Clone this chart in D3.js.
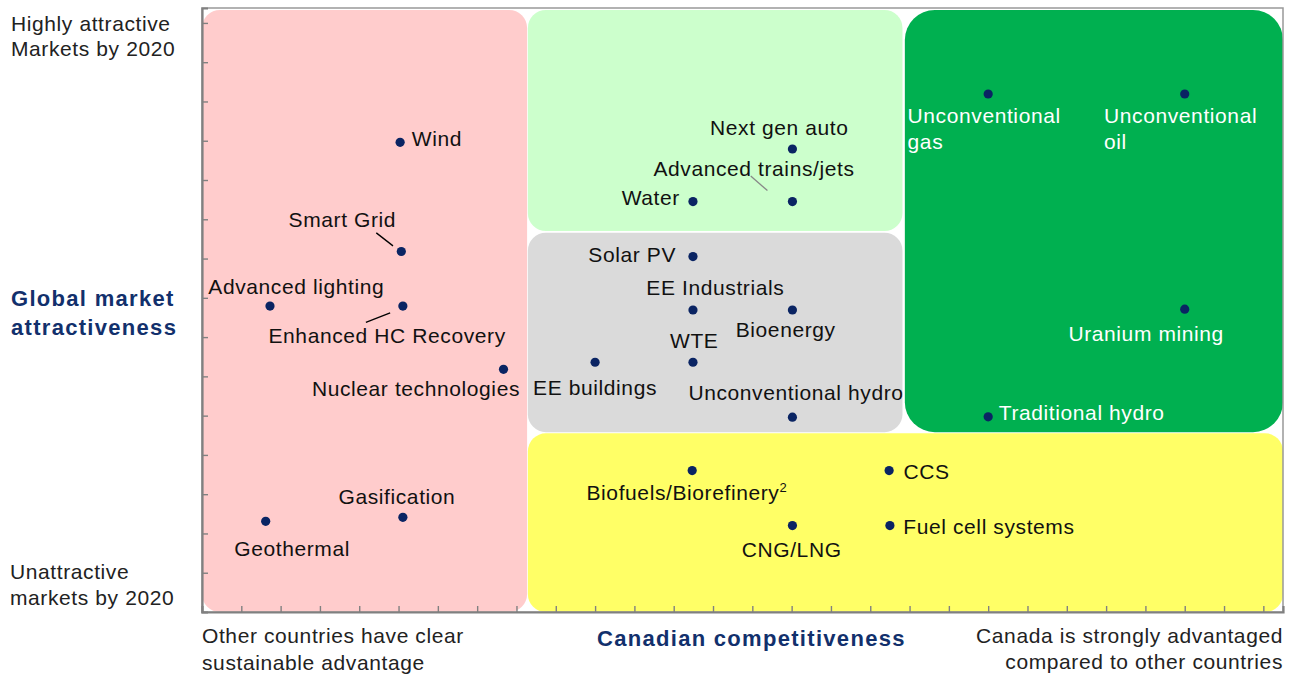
<!DOCTYPE html>
<html>
<head>
<meta charset="utf-8">
<style>
  body { margin: 0; background: #fff; }
  svg text { font-family: "Liberation Sans", Arial, sans-serif; }
</style>
</head>
<body>
<svg width="1292" height="674"></svg>
<script src="https://cdn.jsdelivr.net/npm/d3@7"></script>
<script>
// technologies, Canadian competitiveness (x) and global market attractiveness (y)
var techNames = ["Wind", "Smart Grid", "Advanced lighting", "Enhanced HC Recovery", "Nuclear technologies",
  "Gasification", "Geothermal", "Next gen auto", "Advanced trains/jets", "Water", "Solar PV",
  "EE Industrials", "Bioenergy", "EE buildings", "WTE", "Unconventional hydro", "Biofuels/Biorefinery",
  "CCS", "CNG/LNG", "Fuel cell systems", "Unconventional gas", "Unconventional oil", "Uranium mining",
  "Traditional hydro"];
var competitiveness = [5.04, 5.07, 1.73, 5.11, 7.67, 5.11, 1.62, 15.02, 15.02, 12.49, 12.49,
  12.49, 15.02, 10.0, 12.49, 15.02, 12.47, 17.48, 15.02, 17.5, 20.0, 25.0, 25.0, 20.0];
var attractiveness = [11.96, 9.18, 7.79, 7.79, 6.18, 2.41, 2.31, 11.79, 10.45, 10.45, 9.05,
  7.69, 7.69, 6.36, 6.36, 4.96, 3.60, 3.60, 2.20, 2.20, 13.19, 13.19, 7.71, 4.97];

// background zones (in axis units)
var zoneX0 = [0, 8.29, 8.29, 17.88, 8.29];
var zoneX1 = [8.27, 17.82, 17.82, 27.5, 27.5];
var zoneY0 = [0, 9.70, 4.58, 4.58, 0];
var zoneY1 = [15.33, 15.33, 9.66, 15.33, 4.55];
var zoneColors = ["#ffcccc", "#ccffcc", "#dadada", "#00b050", "#ffff66"];
var zoneRadius = [18, 18, 18, 30, 18];

// label placement relative to each dot: [dx, dy, lines, colour]
var labelLayout = [
  [11.7, 3.4], [-112.7, -24.6], [-61.7, -12], [-134.4, 37.3], [-191.6, 26.4],
  [-64.4, -13.3], [-31.4, 34.7], [-82.4, -14], [-139, -25.7], [-71.3, 3.6], [-104.6, 5.6],
  [-46.6, -15], [-56.7, 27.3], [-62, 32.7], [-23, -14.6], [-104, -17.3], [-105.7, 29.3],
  [14.4, 8.6], [-50.7, 31.6], [13.4, 8.6], [-80.6, 29.3], [-80.7, 29.3], [-116.3, 31.7],
  [10.6, 3.3]
];
var whiteLabels = ["Unconventional gas", "Unconventional oil", "Uranium mining", "Traditional hydro"];
var splitLabels = { "Unconventional gas": ["Unconventional", "gas"], "Unconventional oil": ["Unconventional", "oil"] };

// leader lines relative to the dot
var leaders = [
  { name: "Smart Grid", d: [-25, -18.6, -8.3, -5.6], color: "#000" },
  { name: "Enhanced HC Recovery", d: [-12.7, 6.7, -37, 16.3], color: "#000" },
  { name: "Advanced trains/jets", d: [-41.7, -25.7, -25, -11], color: "#888" }
];

var svg = d3.select("svg");
var margin = {top: 8, right: 9, bottom: 62, left: 202};
var width = +svg.attr("width") - margin.left - margin.right;
var height = +svg.attr("height") - margin.top - margin.bottom;

var x = d3.scaleLinear().domain([0, 27.5]).range([margin.left, margin.left + width]);
var y = d3.scaleLinear().domain([0, 15.38]).range([margin.top + height, margin.top]);

// zones
svg.selectAll("rect.zone")
  .data(zoneColors)
  .enter().append("rect")
  .attr("class", "zone")
  .attr("x", function(d, i) { return x(zoneX0[i]); })
  .attr("y", function(d, i) { return y(zoneY1[i]); })
  .attr("width", function(d, i) { return x(zoneX1[i]) - x(zoneX0[i]); })
  .attr("height", function(d, i) { return y(zoneY0[i]) - y(zoneY1[i]); })
  .attr("rx", function(d, i) { return zoneRadius[i]; })
  .attr("fill", function(d) { return d; });

// frame
svg.append("rect")
  .attr("x", x(0)).attr("y", margin.top)
  .attr("width", width).attr("height", height)
  .attr("fill", "none")
  .attr("stroke", "#999")
  .attr("stroke-width", 1.5);

// axes, ticks pointing inwards
var yAxis = d3.axisLeft(y).tickValues(d3.range(1, 16)).tickSize(-6).tickFormat("");
var xAxis = d3.axisBottom(x).tickValues(d3.range(1, 28)).tickSize(-6).tickFormat("");

var gy = svg.append("g").attr("transform", "translate(" + x(0) + ",0)").call(yAxis);
var gx = svg.append("g").attr("transform", "translate(0," + y(0) + ")").call(xAxis);
[gx, gy].forEach(function(g) {
  g.selectAll("path").attr("stroke", "#808080").attr("stroke-width", 2.2);
  g.selectAll("line").attr("stroke", "#808080").attr("stroke-width", 1.4);
});

// leader lines
leaders.forEach(function(l) {
  var i = techNames.indexOf(l.name);
  var cx = x(competitiveness[i]), cy = y(attractiveness[i]);
  svg.append("line")
    .attr("x1", cx + l.d[0]).attr("y1", cy + l.d[1])
    .attr("x2", cx + l.d[2]).attr("y2", cy + l.d[3])
    .attr("stroke", l.color).attr("stroke-width", 1.3);
});

// dots
svg.selectAll("circle.tech")
  .data(techNames)
  .enter().append("circle")
  .attr("class", "tech")
  .attr("cx", function(d, i) { return x(competitiveness[i]); })
  .attr("cy", function(d, i) { return y(attractiveness[i]); })
  .attr("r", 4.6)
  .attr("fill", "#0a2463");

// labels
techNames.forEach(function(name, i) {
  var lx = x(competitiveness[i]) + labelLayout[i][0];
  var ly = y(attractiveness[i]) + labelLayout[i][1];
  var t = svg.append("text")
    .attr("x", lx).attr("y", ly)
    .attr("font-size", 21)
    .attr("letter-spacing", 0.6)
    .attr("fill", whiteLabels.indexOf(name) >= 0 ? "#fff" : "#111");
  var lines = splitLabels[name] || [name];
  lines.forEach(function(s, k) {
    t.append("tspan").attr("x", lx).attr("dy", k === 0 ? 0 : 25.7).text(s);
  });
  if (name === "Biofuels/Biorefinery") {
    t.append("tspan").attr("font-size", 13).attr("dy", -8).text("2");
  }
});

// axis captions
function caption(lines, px, py, opts) {
  var t = svg.append("text")
    .attr("x", px).attr("y", py)
    .attr("font-size", opts.size || 21)
    .attr("font-weight", opts.bold ? "bold" : "normal")
    .attr("letter-spacing", opts.spacing || 0.6)
    .attr("text-anchor", opts.anchor || "start")
    .attr("fill", opts.color || "#222");
  lines.forEach(function(s, k) {
    t.append("tspan").attr("x", px).attr("dy", k === 0 ? 0 : opts.lh || 26).text(s);
  });
}

caption(["Highly attractive", "Markets by 2020"], 11, 30.7, {lh: 25.5});
caption(["Global market", "attractiveness"], 11, 306, {bold: true, size: 22, spacing: 1.3, color: "#12306c", lh: 29});
caption(["Unattractive", "markets by 2020"], 10, 579.3, {lh: 25.7});
caption(["Other countries have clear", "sustainable advantage"], x(0), 643.3, {lh: 26.7});
caption(["Canadian competitiveness"], 597, 645.7, {bold: true, size: 22, spacing: 1.3, color: "#12306c"});
caption(["Canada is strongly advantaged", "compared to other countries"], x(27.5), 643.3, {anchor: "end", lh: 26});
</script>
</body>
</html>
